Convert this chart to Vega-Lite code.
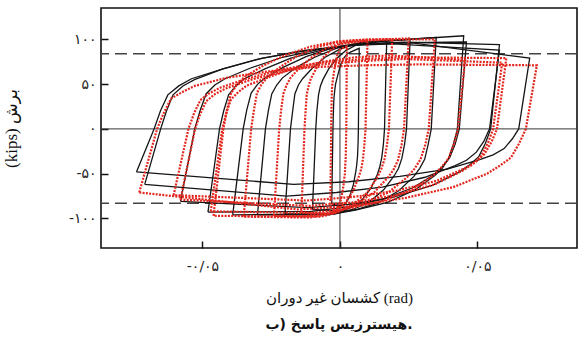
{
  "$schema": "https://vega.github.io/schema/vega-lite/v6.json",
  "width": 476,
  "height": 240,
  "autosize": {"type": "none"},
  "padding": {"left": 101, "top": 8, "right": 2, "bottom": 103},
  "background": "white",
  "config": {
    "view": {"stroke": "#111", "strokeWidth": 1.6},
    "font": "Liberation Serif, DejaVu Sans"
  },
  "title": {
    "text": "\u200eب)\u200e پاسخ\u200e هیسترزیس.",
    "orient": "bottom",
    "anchor": "middle",
    "font": "DejaVu Sans",
    "fontSize": 14,
    "fontWeight": "bold",
    "color": "#111",
    "offset": 13
  },
  "datasets": {
    "test": [
      {"k":"B1","i":0,"x":-0.003,"y":-84},{"k":"B1","i":1,"x":-0.00255,"y":0},{"k":"B1","i":1.5,"x":-0.0024,"y":18},{"k":"B1","i":2,"x":-0.0022,"y":34},{"k":"B1","i":2.5,"x":-0.0019,"y":43},{"k":"B1","i":3,"x":-0.0016,"y":50},{"k":"B1","i":4,"x":-0.0008,"y":60},{"k":"B1","i":5,"x":0.0002,"y":71},{"k":"B1","i":6,"x":0.0014,"y":79},{"k":"B1","i":7,"x":0.0027,"y":84},{"k":"B1","i":8,"x":0.004,"y":86},{"k":"B1","i":9,"x":0.007,"y":90},{"k":"B1","i":10,"x":0.0067,"y":0},{"k":"B1","i":10.5,"x":0.0066,"y":-15},{"k":"B1","i":11,"x":0.0064,"y":-30},{"k":"B1","i":11.5,"x":0.0061,"y":-40},{"k":"B1","i":12,"x":0.0058,"y":-47},{"k":"B1","i":13,"x":0.0049,"y":-62},{"k":"B1","i":14,"x":0.0037,"y":-74},{"k":"B1","i":15,"x":0.0024,"y":-82},{"k":"B1","i":16,"x":0.001,"y":-86},{"k":"B1","i":17,"x":-0.003,"y":-84},
      {"k":"B2","i":0,"x":-0.010,"y":-90},{"k":"B2","i":1,"x":-0.0088,"y":0},{"k":"B2","i":1.5,"x":-0.0084,"y":20},{"k":"B2","i":2,"x":-0.0078,"y":38},{"k":"B2","i":2.5,"x":-0.0071,"y":48},{"k":"B2","i":3,"x":-0.0062,"y":55},{"k":"B2","i":4,"x":-0.0041,"y":67},{"k":"B2","i":5,"x":-0.0014,"y":78},{"k":"B2","i":6,"x":0.0019,"y":87},{"k":"B2","i":7,"x":0.0054,"y":93},{"k":"B2","i":8,"x":0.0089,"y":95},{"k":"B2","i":9,"x":0.017,"y":99},{"k":"B2","i":10,"x":0.0162,"y":0},{"k":"B2","i":10.5,"x":0.0158,"y":-17},{"k":"B2","i":11,"x":0.0152,"y":-32},{"k":"B2","i":11.5,"x":0.0145,"y":-42},{"k":"B2","i":12,"x":0.0136,"y":-51},{"k":"B2","i":13,"x":0.0113,"y":-66},{"k":"B2","i":14,"x":0.0081,"y":-79},{"k":"B2","i":15,"x":0.0046,"y":-87},{"k":"B2","i":16,"x":0.0008,"y":-92},{"k":"B2","i":17,"x":-0.010,"y":-90},
      {"k":"B3","i":0,"x":-0.020,"y":-95},{"k":"B3","i":1,"x":-0.0180,"y":0},{"k":"B3","i":1.5,"x":-0.0172,"y":20},{"k":"B3","i":2,"x":-0.0164,"y":39},{"k":"B3","i":2.5,"x":-0.0151,"y":49},{"k":"B3","i":3,"x":-0.0136,"y":56},{"k":"B3","i":4,"x":-0.0100,"y":68},{"k":"B3","i":5,"x":-0.0054,"y":80},{"k":"B3","i":6,"x":0.0000,"y":89},{"k":"B3","i":7,"x":0.0059,"y":95},{"k":"B3","i":8,"x":0.0119,"y":97},{"k":"B3","i":9,"x":0.0255,"y":100},{"k":"B3","i":10,"x":0.0242,"y":0},{"k":"B3","i":10.5,"x":0.0235,"y":-17},{"k":"B3","i":11,"x":0.0225,"y":-33},{"k":"B3","i":11.5,"x":0.0213,"y":-44},{"k":"B3","i":12,"x":0.0198,"y":-52},{"k":"B3","i":13,"x":0.0159,"y":-68},{"k":"B3","i":14,"x":0.0105,"y":-82},{"k":"B3","i":15,"x":0.0046,"y":-90},{"k":"B3","i":16,"x":-0.0018,"y":-95},{"k":"B3","i":17,"x":-0.020,"y":-95},
      {"k":"B4","i":0,"x":-0.030,"y":-96},{"k":"B4","i":1,"x":-0.0271,"y":0},{"k":"B4","i":1.5,"x":-0.0260,"y":21},{"k":"B4","i":2,"x":-0.0248,"y":39},{"k":"B4","i":2.5,"x":-0.0230,"y":49},{"k":"B4","i":3,"x":-0.0209,"y":57},{"k":"B4","i":4,"x":-0.0157,"y":69},{"k":"B4","i":5,"x":-0.0092,"y":80},{"k":"B4","i":6,"x":-0.0014,"y":90},{"k":"B4","i":7,"x":0.0071,"y":96},{"k":"B4","i":8,"x":0.0155,"y":98},{"k":"B4","i":9,"x":0.035,"y":102},{"k":"B4","i":10,"x":0.0332,"y":0},{"k":"B4","i":10.5,"x":0.0321,"y":-17},{"k":"B4","i":11,"x":0.0308,"y":-34},{"k":"B4","i":11.5,"x":0.029,"y":-44},{"k":"B4","i":12,"x":0.0269,"y":-53},{"k":"B4","i":13,"x":0.0214,"y":-69},{"k":"B4","i":14,"x":0.0136,"y":-83},{"k":"B4","i":15,"x":0.0051,"y":-91},{"k":"B4","i":16,"x":-0.004,"y":-96},{"k":"B4","i":17,"x":-0.030,"y":-96},
      {"k":"B5","i":0,"x":-0.039,"y":-96},{"k":"B5","i":1,"x":-0.0352,"y":0},{"k":"B5","i":1.5,"x":-0.0339,"y":21},{"k":"B5","i":2,"x":-0.0323,"y":40},{"k":"B5","i":2.5,"x":-0.0299,"y":50},{"k":"B5","i":3,"x":-0.0272,"y":57},{"k":"B5","i":4,"x":-0.0205,"y":69},{"k":"B5","i":5,"x":-0.0121,"y":81},{"k":"B5","i":6,"x":-0.0020,"y":91},{"k":"B5","i":7,"x":0.0089,"y":97},{"k":"B5","i":8,"x":0.0198,"y":99},{"k":"B5","i":9,"x":0.045,"y":104},{"k":"B5","i":10,"x":0.0427,"y":0},{"k":"B5","i":10.5,"x":0.0413,"y":-17},{"k":"B5","i":11,"x":0.0395,"y":-33},{"k":"B5","i":11.5,"x":0.0372,"y":-44},{"k":"B5","i":12,"x":0.0345,"y":-52},{"k":"B5","i":13,"x":0.0274,"y":-68},{"k":"B5","i":14,"x":0.0173,"y":-82},{"k":"B5","i":15,"x":0.0064,"y":-90},{"k":"B5","i":16,"x":-0.0054,"y":-95},{"k":"B5","i":17,"x":-0.039,"y":-96},
      {"k":"B6","i":0,"x":-0.048,"y":-93},{"k":"B6","i":1,"x":-0.0438,"y":0},{"k":"B6","i":1.5,"x":-0.0423,"y":20},{"k":"B6","i":2,"x":-0.0405,"y":38},{"k":"B6","i":2.5,"x":-0.0379,"y":48},{"k":"B6","i":3,"x":-0.0348,"y":56},{"k":"B6","i":4,"x":-0.0273,"y":67},{"k":"B6","i":5,"x":-0.0179,"y":79},{"k":"B6","i":6,"x":-0.0066,"y":88},{"k":"B6","i":7,"x":0.0056,"y":94},{"k":"B6","i":8,"x":0.0178,"y":96},{"k":"B6","i":9,"x":0.046,"y":97},{"k":"B6","i":10,"x":0.0434,"y":0},{"k":"B6","i":10.5,"x":0.0419,"y":-17},{"k":"B6","i":11,"x":0.0399,"y":-32},{"k":"B6","i":11.5,"x":0.0373,"y":-42},{"k":"B6","i":12,"x":0.0343,"y":-51},{"k":"B6","i":13,"x":0.0263,"y":-66},{"k":"B6","i":14,"x":0.0150,"y":-79},{"k":"B6","i":15,"x":0.0028,"y":-87},{"k":"B6","i":16,"x":-0.0104,"y":-92},{"k":"B6","i":17,"x":-0.048,"y":-93},
      {"k":"B7","i":0,"x":-0.058,"y":-81},{"k":"B7","i":1,"x":-0.0528,"y":0},{"k":"B7","i":1.5,"x":-0.0509,"y":20},{"k":"B7","i":2,"x":-0.0487,"y":39},{"k":"B7","i":2.5,"x":-0.0455,"y":49},{"k":"B7","i":3,"x":-0.0418,"y":56},{"k":"B7","i":4,"x":-0.0325,"y":68},{"k":"B7","i":5,"x":-0.0209,"y":80},{"k":"B7","i":6,"x":-0.0070,"y":89},{"k":"B7","i":7,"x":0.0081,"y":95},{"k":"B7","i":8,"x":0.0232,"y":97},{"k":"B7","i":9,"x":0.058,"y":94},{"k":"B7","i":10,"x":0.0548,"y":0},{"k":"B7","i":10.5,"x":0.0529,"y":-16},{"k":"B7","i":11,"x":0.0505,"y":-31},{"k":"B7","i":11.5,"x":0.0472,"y":-40},{"k":"B7","i":12,"x":0.0435,"y":-48},{"k":"B7","i":13,"x":0.0336,"y":-63},{"k":"B7","i":14,"x":0.0197,"y":-76},{"k":"B7","i":15,"x":0.0046,"y":-84},{"k":"B7","i":16,"x":-0.0116,"y":-88},{"k":"B7","i":17,"x":-0.058,"y":-81},
      {"k":"B8","i":0,"x":-0.071,"y":-62},{"k":"B8","i":1,"x":-0.0652,"y":0},{"k":"B8","i":1.5,"x":-0.0631,"y":20},{"k":"B8","i":2,"x":-0.0607,"y":38},{"k":"B8","i":2.5,"x":-0.0571,"y":48},{"k":"B8","i":3,"x":-0.0529,"y":55},{"k":"B8","i":4,"x":-0.0426,"y":67},{"k":"B8","i":5,"x":-0.0297,"y":78},{"k":"B8","i":6,"x":-0.0142,"y":87},{"k":"B8","i":7,"x":0.0025,"y":93},{"k":"B8","i":8,"x":0.0193,"y":95},{"k":"B8","i":9,"x":0.058,"y":88},{"k":"B8","i":10,"x":0.0544,"y":0},{"k":"B8","i":10.5,"x":0.0523,"y":-14},{"k":"B8","i":11,"x":0.0496,"y":-26},{"k":"B8","i":11.5,"x":0.046,"y":-35},{"k":"B8","i":12,"x":0.0419,"y":-41},{"k":"B8","i":13,"x":0.0309,"y":-54},{"k":"B8","i":14,"x":0.0154,"y":-65},{"k":"B8","i":15,"x":-0.0013,"y":-71},{"k":"B8","i":16,"x":-0.0194,"y":-75},{"k":"B8","i":17,"x":-0.071,"y":-62},
      {"k":"B9","i":0,"x":-0.074,"y":-48},{"k":"B9","i":1,"x":-0.0676,"y":0},{"k":"B9","i":1.5,"x":-0.0653,"y":20},{"k":"B9","i":2,"x":-0.0626,"y":38},{"k":"B9","i":2.5,"x":-0.0586,"y":48},{"k":"B9","i":3,"x":-0.0540,"y":56},{"k":"B9","i":4,"x":-0.0425,"y":67},{"k":"B9","i":5,"x":-0.0282,"y":79},{"k":"B9","i":6,"x":-0.0111,"y":88},{"k":"B9","i":7,"x":0.0075,"y":94},{"k":"B9","i":8,"x":0.0261,"y":96},{"k":"B9","i":9,"x":0.069,"y":79},{"k":"B9","i":10,"x":0.065,"y":0},{"k":"B9","i":10.5,"x":0.0627,"y":-11},{"k":"B9","i":11,"x":0.0597,"y":-22},{"k":"B9","i":11.5,"x":0.0557,"y":-29},{"k":"B9","i":12,"x":0.0511,"y":-34},{"k":"B9","i":13,"x":0.039,"y":-45},{"k":"B9","i":14,"x":0.0218,"y":-53},{"k":"B9","i":15,"x":0.0032,"y":-59},{"k":"B9","i":16,"x":-0.0168,"y":-62},{"k":"B9","i":17,"x":-0.074,"y":-48}
    ],
    "model": [
      {"k":"R1","i":0,"x":-0.0035,"y":-88},{"k":"R1","i":1,"x":-0.0032,"y":0},{"k":"R1","i":1.5,"x":-0.0031,"y":19},{"k":"R1","i":2,"x":-0.0030,"y":36},{"k":"R1","i":2.5,"x":-0.0029,"y":45},{"k":"R1","i":3,"x":-0.0027,"y":52},{"k":"R1","i":4,"x":-0.0022,"y":63},{"k":"R1","i":5,"x":-0.0016,"y":74},{"k":"R1","i":6,"x":-0.0009,"y":83},{"k":"R1","i":7,"x":-0.0001,"y":88},{"k":"R1","i":8,"x":0.0007,"y":90},{"k":"R1","i":9,"x":0.0025,"y":92},{"k":"R1","i":10,"x":0.0023,"y":0},{"k":"R1","i":10.5,"x":0.0022,"y":-16},{"k":"R1","i":11,"x":0.0021,"y":-32},{"k":"R1","i":11.5,"x":0.0019,"y":-41},{"k":"R1","i":12,"x":0.0018,"y":-50},{"k":"R1","i":13,"x":0.0012,"y":-65},{"k":"R1","i":14,"x":0.0005,"y":-77},{"k":"R1","i":15,"x":-0.0003,"y":-86},{"k":"R1","i":16,"x":-0.0011,"y":-90},{"k":"R1","i":17,"x":-0.0035,"y":-88},
      {"k":"R2","i":0,"x":-0.014,"y":-93},{"k":"R2","i":1,"x":-0.0129,"y":0},{"k":"R2","i":1.5,"x":-0.0125,"y":20},{"k":"R2","i":2,"x":-0.0121,"y":38},{"k":"R2","i":2.5,"x":-0.0114,"y":48},{"k":"R2","i":3,"x":-0.0106,"y":56},{"k":"R2","i":4,"x":-0.0087,"y":67},{"k":"R2","i":5,"x":-0.0063,"y":79},{"k":"R2","i":6,"x":-0.0034,"y":88},{"k":"R2","i":7,"x":-0.0003,"y":94},{"k":"R2","i":8,"x":0.0028,"y":96},{"k":"R2","i":9,"x":0.010,"y":98},{"k":"R2","i":10,"x":0.0093,"y":0},{"k":"R2","i":10.5,"x":0.0089,"y":-17},{"k":"R2","i":11,"x":0.0084,"y":-33},{"k":"R2","i":11.5,"x":0.0078,"y":-44},{"k":"R2","i":12,"x":0.007,"y":-52},{"k":"R2","i":13,"x":0.005,"y":-68},{"k":"R2","i":14,"x":0.0021,"y":-82},{"k":"R2","i":15,"x":-0.001,"y":-90},{"k":"R2","i":16,"x":-0.0044,"y":-95},{"k":"R2","i":17,"x":-0.014,"y":-93},
      {"k":"R3","i":0,"x":-0.024,"y":-97},{"k":"R3","i":1,"x":-0.0221,"y":0},{"k":"R3","i":1.5,"x":-0.0214,"y":21},{"k":"R3","i":2,"x":-0.0206,"y":39},{"k":"R3","i":2.5,"x":-0.0194,"y":49},{"k":"R3","i":3,"x":-0.0180,"y":57},{"k":"R3","i":4,"x":-0.0145,"y":69},{"k":"R3","i":5,"x":-0.0102,"y":80},{"k":"R3","i":6,"x":-0.0051,"y":90},{"k":"R3","i":7,"x":0.0005,"y":96},{"k":"R3","i":8,"x":0.0061,"y":98},{"k":"R3","i":9,"x":0.019,"y":100},{"k":"R3","i":10,"x":0.0178,"y":0},{"k":"R3","i":10.5,"x":0.0171,"y":-18},{"k":"R3","i":11,"x":0.0162,"y":-34},{"k":"R3","i":11.5,"x":0.015,"y":-45},{"k":"R3","i":12,"x":0.0136,"y":-54},{"k":"R3","i":13,"x":0.0100,"y":-71},{"k":"R3","i":14,"x":0.0048,"y":-84},{"k":"R3","i":15,"x":-0.0008,"y":-93},{"k":"R3","i":16,"x":-0.0068,"y":-98},{"k":"R3","i":17,"x":-0.024,"y":-97},
      {"k":"R4","i":0,"x":-0.035,"y":-98},{"k":"R4","i":1,"x":-0.0323,"y":0},{"k":"R4","i":1.5,"x":-0.0313,"y":21},{"k":"R4","i":2,"x":-0.0302,"y":40},{"k":"R4","i":2.5,"x":-0.0285,"y":50},{"k":"R4","i":3,"x":-0.0266,"y":57},{"k":"R4","i":4,"x":-0.0218,"y":69},{"k":"R4","i":5,"x":-0.0158,"y":81},{"k":"R4","i":6,"x":-0.0086,"y":91},{"k":"R4","i":7,"x":-0.0008,"y":97},{"k":"R4","i":8,"x":0.007,"y":99},{"k":"R4","i":9,"x":0.025,"y":101},{"k":"R4","i":10,"x":0.0233,"y":0},{"k":"R4","i":10.5,"x":0.0224,"y":-18},{"k":"R4","i":11,"x":0.0211,"y":-35},{"k":"R4","i":11.5,"x":0.0194,"y":-46},{"k":"R4","i":12,"x":0.0175,"y":-54},{"k":"R4","i":13,"x":0.0124,"y":-71},{"k":"R4","i":14,"x":0.0052,"y":-85},{"k":"R4","i":15,"x":-0.0026,"y":-94},{"k":"R4","i":16,"x":-0.011,"y":-99},{"k":"R4","i":17,"x":-0.035,"y":-98},
      {"k":"R5","i":0,"x":-0.046,"y":-97},{"k":"R5","i":1,"x":-0.0424,"y":0},{"k":"R5","i":1.5,"x":-0.0411,"y":21},{"k":"R5","i":2,"x":-0.0396,"y":40},{"k":"R5","i":2.5,"x":-0.0373,"y":50},{"k":"R5","i":3,"x":-0.0347,"y":58},{"k":"R5","i":4,"x":-0.0283,"y":70},{"k":"R5","i":5,"x":-0.0202,"y":82},{"k":"R5","i":6,"x":-0.0106,"y":92},{"k":"R5","i":7,"x":-0.0001,"y":98},{"k":"R5","i":8,"x":0.0104,"y":100},{"k":"R5","i":9,"x":0.0345,"y":100},{"k":"R5","i":10,"x":0.0323,"y":0},{"k":"R5","i":10.5,"x":0.031,"y":-18},{"k":"R5","i":11,"x":0.0293,"y":-34},{"k":"R5","i":11.5,"x":0.027,"y":-45},{"k":"R5","i":12,"x":0.0244,"y":-54},{"k":"R5","i":13,"x":0.0176,"y":-71},{"k":"R5","i":14,"x":0.0079,"y":-84},{"k":"R5","i":15,"x":-0.0025,"y":-93},{"k":"R5","i":16,"x":-0.0138,"y":-98},{"k":"R5","i":17,"x":-0.046,"y":-97},
      {"k":"R6","i":0,"x":-0.047,"y":-92},{"k":"R6","i":1,"x":-0.0428,"y":0},{"k":"R6","i":1.5,"x":-0.0414,"y":17},{"k":"R6","i":2,"x":-0.0396,"y":33},{"k":"R6","i":2.5,"x":-0.037,"y":41},{"k":"R6","i":3,"x":-0.0341,"y":48},{"k":"R6","i":4,"x":-0.0267,"y":57},{"k":"R6","i":5,"x":-0.0174,"y":67},{"k":"R6","i":6,"x":-0.0063,"y":75},{"k":"R6","i":7,"x":0.0057,"y":80},{"k":"R6","i":8,"x":0.0178,"y":82},{"k":"R6","i":9,"x":0.0455,"y":77},{"k":"R6","i":10,"x":0.0429,"y":0},{"k":"R6","i":10.5,"x":0.0414,"y":-17},{"k":"R6","i":11,"x":0.0395,"y":-33},{"k":"R6","i":11.5,"x":0.0369,"y":-43},{"k":"R6","i":12,"x":0.0339,"y":-52},{"k":"R6","i":13,"x":0.0261,"y":-68},{"k":"R6","i":14,"x":0.015,"y":-81},{"k":"R6","i":15,"x":0.003,"y":-89},{"k":"R6","i":16,"x":-0.01,"y":-94},{"k":"R6","i":17,"x":-0.047,"y":-92},
      {"k":"R7","i":0,"x":-0.058,"y":-79},{"k":"R7","i":1,"x":-0.0527,"y":0},{"k":"R7","i":1.5,"x":-0.0509,"y":16},{"k":"R7","i":2,"x":-0.0486,"y":31},{"k":"R7","i":2.5,"x":-0.0454,"y":39},{"k":"R7","i":3,"x":-0.0416,"y":45},{"k":"R7","i":4,"x":-0.0323,"y":55},{"k":"R7","i":5,"x":-0.0206,"y":64},{"k":"R7","i":6,"x":-0.0065,"y":72},{"k":"R7","i":7,"x":0.0087,"y":76},{"k":"R7","i":8,"x":0.0239,"y":78},{"k":"R7","i":9,"x":0.059,"y":74},{"k":"R7","i":10,"x":0.0557,"y":0},{"k":"R7","i":10.5,"x":0.0539,"y":-15},{"k":"R7","i":11,"x":0.0514,"y":-30},{"k":"R7","i":11.5,"x":0.0481,"y":-40},{"k":"R7","i":12,"x":0.0444,"y":-47},{"k":"R7","i":13,"x":0.0344,"y":-62},{"k":"R7","i":14,"x":0.0204,"y":-74},{"k":"R7","i":15,"x":0.0052,"y":-82},{"k":"R7","i":16,"x":-0.0112,"y":-86},{"k":"R7","i":17,"x":-0.058,"y":-79},
      {"k":"R8","i":0,"x":-0.0605,"y":-74},{"k":"R8","i":1,"x":-0.0551,"y":0},{"k":"R8","i":1.5,"x":-0.0531,"y":17},{"k":"R8","i":2,"x":-0.0508,"y":32},{"k":"R8","i":2.5,"x":-0.0474,"y":40},{"k":"R8","i":3,"x":-0.0436,"y":46},{"k":"R8","i":4,"x":-0.0339,"y":56},{"k":"R8","i":5,"x":-0.0218,"y":66},{"k":"R8","i":6,"x":-0.0073,"y":74},{"k":"R8","i":7,"x":0.0085,"y":78},{"k":"R8","i":8,"x":0.0242,"y":80},{"k":"R8","i":9,"x":0.0605,"y":79},{"k":"R8","i":10,"x":0.0571,"y":0},{"k":"R8","i":10.5,"x":0.0552,"y":-14},{"k":"R8","i":11,"x":0.0526,"y":-28},{"k":"R8","i":11.5,"x":0.0493,"y":-37},{"k":"R8","i":12,"x":0.0454,"y":-44},{"k":"R8","i":13,"x":0.0351,"y":-58},{"k":"R8","i":14,"x":0.0206,"y":-69},{"k":"R8","i":15,"x":0.0048,"y":-76},{"k":"R8","i":16,"x":-0.0121,"y":-80},{"k":"R8","i":17,"x":-0.0605,"y":-74},
      {"k":"R9","i":0,"x":-0.073,"y":-71},{"k":"R9","i":1,"x":-0.0665,"y":0},{"k":"R9","i":1.5,"x":-0.0642,"y":17},{"k":"R9","i":2,"x":-0.0614,"y":34},{"k":"R9","i":2.5,"x":-0.0574,"y":41},{"k":"R9","i":3,"x":-0.0528,"y":48},{"k":"R9","i":4,"x":-0.0412,"y":57},{"k":"R9","i":5,"x":-0.0267,"y":64},{"k":"R9","i":6,"x":-0.0094,"y":69},{"k":"R9","i":7,"x":0.0094,"y":71},{"k":"R9","i":8,"x":0.0282,"y":72},{"k":"R9","i":9,"x":0.0716,"y":71},{"k":"R9","i":10,"x":0.0676,"y":0},{"k":"R9","i":10.5,"x":0.0652,"y":-16},{"k":"R9","i":11,"x":0.0622,"y":-32},{"k":"R9","i":11.5,"x":0.0582,"y":-41},{"k":"R9","i":12,"x":0.0535,"y":-50},{"k":"R9","i":13,"x":0.0412,"y":-65},{"k":"R9","i":14,"x":0.0239,"y":-77},{"k":"R9","i":15,"x":0.0051,"y":-86},{"k":"R9","i":16,"x":-0.0152,"y":-90},{"k":"R9","i":17,"x":-0.073,"y":-71}
    ]
  },
  "layer": [
    {
      "data": {"values": [{"v": 0}]},
      "mark": {"type": "rule", "color": "#333", "strokeWidth": 1},
      "encoding": {"y": {"field": "v", "type": "quantitative"}}
    },
    {
      "data": {"values": [{"v": 0}]},
      "mark": {"type": "rule", "color": "#333", "strokeWidth": 1},
      "encoding": {"x": {"field": "v", "type": "quantitative"}}
    },
    {
      "data": {"values": [{"v": 84}, {"v": -83}]},
      "mark": {"type": "rule", "color": "#444", "strokeWidth": 1.5, "strokeDash": [12, 6]},
      "encoding": {"y": {"field": "v", "type": "quantitative"}}
    },
    {
      "data": {"name": "test"},
      "mark": {"type": "line", "color": "#151515", "strokeWidth": 1.3},
      "encoding": {
        "x": {
          "field": "x", "type": "quantitative",
          "scale": {"domain": [-0.0869, 0.0862], "nice": false, "zero": false},
          "axis": {
            "values": [-0.05, 0, 0.05],
            "labelExpr": "datum.value < -0.01 ? '-۰/۰۵' : (datum.value > 0.01 ? '۰/۰۵' : '۰')",
            "labelFont": "DejaVu Sans",
            "labelFontSize": 14,
            "labelColor": "#222",
            "labelPadding": 18,
            "tickSize": -7,
            "tickWidth": 1.5,
            "tickColor": "#111",
            "domain": false,
            "grid": false,
            "title": "\u200eدوران\u200e غیر\u200e کشسان (rad)",
            "titleFont": "Liberation Serif, DejaVu Sans",
            "titleFontSize": 15,
            "titleFontWeight": "normal",
            "titleColor": "#111",
            "titlePadding": 17
          }
        },
        "y": {
          "field": "y", "type": "quantitative",
          "scale": {"domain": [-133, 135], "nice": false, "zero": false},
          "axis": {
            "values": [-100, -50, 0, 50, 100],
            "labelExpr": "datum.value == 100 ? '۱۰۰' : datum.value == 50 ? '۵۰' : datum.value == 0 ? '۰' : datum.value == -50 ? '-۵۰' : '-۱۰۰'",
            "labelFont": "DejaVu Sans",
            "labelFontSize": 14,
            "labelColor": "#222",
            "labelPadding": 12,
            "tickSize": -7,
            "tickWidth": 1.5,
            "tickColor": "#111",
            "domain": false,
            "grid": false,
            "title": "(kips) برش",
            "titleFont": "Liberation Serif, DejaVu Sans",
            "titleFontSize": 17,
            "titleFontWeight": "normal",
            "titleColor": "#111",
            "titlePadding": 48
          }
        },
        "detail": {"field": "k"},
        "order": {"field": "i", "type": "quantitative"}
      }
    },
    {
      "data": {"name": "model"},
      "mark": {"type": "line", "color": "#e3261d", "strokeWidth": 2.2, "strokeDash": [2, 1.3]},
      "encoding": {
        "x": {"field": "x", "type": "quantitative"},
        "y": {"field": "y", "type": "quantitative"},
        "detail": {"field": "k"},
        "order": {"field": "i", "type": "quantitative"}
      }
    }
  ]
}
